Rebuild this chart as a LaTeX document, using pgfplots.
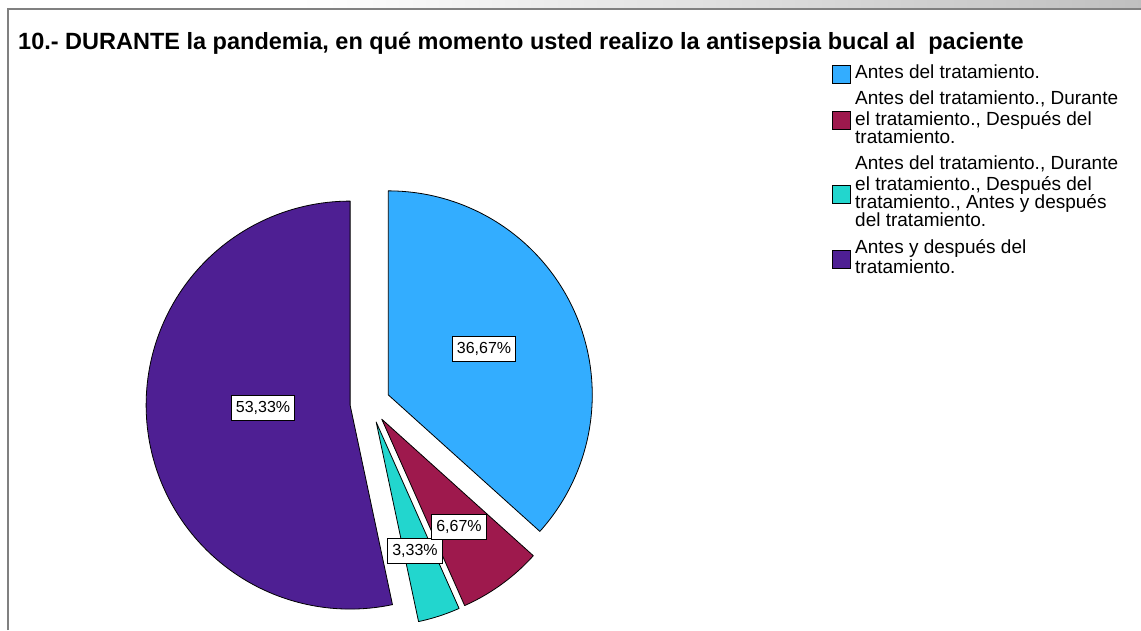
\documentclass[border=0pt]{standalone}
\usepackage{fontspec}
\setmainfont{Liberation Sans}
\usepackage{pgfplots}
\pgfplotsset{compat=1.18}

\definecolor{cBlue}{RGB}{51,173,255}
\definecolor{cMaroon}{RGB}{158,25,77}
\definecolor{cTeal}{RGB}{34,214,206}
\definecolor{cPurple}{RGB}{78,31,147}

% data (percent)
\def\vA{36.67}\def\vB{6.67}\def\vC{3.33}\def\vD{53.33}
\pgfmathsetmacro\aA{90}
\pgfmathsetmacro\aB{\aA-3.6*\vA}
\pgfmathsetmacro\aC{\aB-3.6*\vB}
\pgfmathsetmacro\aD{\aC-3.6*\vC}
\pgfmathsetmacro\aE{\aD-3.6*\vD}

\newcommand{\slice}[3]{%
  \pgfmathsetmacro\mid{(#2+#3)/2}%
  \pgfmathsetmacro\ax{370+20*cos(\mid)}%
  \pgfmathsetmacro\ay{227+20*sin(\mid)}%
  \edef\doslice{\noexpand\addplot[fill=#1, draw=black, line width=0.8pt, line join=round, domain=#3:#2, samples=120]
    ({\ax+204*cos(x)},{\ay+204*sin(x)}) -- (axis cs:\ax,\ay) -- cycle;}%
  \doslice
}
\newcommand{\legitem}[3]{%
  \draw[fill=#1, draw=black, line width=0.8pt] (axis cs:832,#2-9) rectangle (axis cs:850,#2+9);
  \node[anchor=west, inner sep=0pt] at (axis cs:855,#2) {\parbox[c]{290pt}{\fontsize{19}{18}\selectfont\strut #3\strut}};
}

\begin{document}
\begin{tikzpicture}
\begin{axis}[
  x=1pt, y=1pt, xmin=0, xmax=1141, ymin=0, ymax=630,
  hide axis, clip=false,
]
\slice{cBlue}{\aA}{\aB}
\slice{cMaroon}{\aB}{\aC}
\slice{cTeal}{\aC}{\aD}
\slice{cPurple}{\aD}{\aE}

\legitem{cBlue}{556}{Antes del tratamiento.}
\legitem{cMaroon}{510}{Antes del tratamiento., Durante\\el tratamiento., Después del\\tratamiento.}
\legitem{cTeal}{436}{Antes del tratamiento., Durante\\el tratamiento., Después del\\tratamiento., Antes y después\\del tratamiento.}
\legitem{cPurple}{371}{Antes y después del\\tratamiento.}

\tikzset{lab/.style={draw=black, fill=white, font=\fontsize{16}{18}\selectfont, inner xsep=4.5pt, inner ysep=0pt, minimum height=25pt, line width=0.8pt}}
\node[lab] at (axis cs:484,281) {36,67\%};
\node[lab] at (axis cs:263,222) {53,33\%};
\node[lab] at (axis cs:415,79) {3,33\%};
\node[lab] at (axis cs:459,103) {6,67\%};

\node[anchor=base west, font=\fontsize{23.5}{26}\selectfont\bfseries, inner sep=0pt] at (axis cs:18,580) {10.- DURANTE la pandemia, en qué momento usted realizo la antisepsia bucal al\ \ paciente};

\shade[left color=white, right color=black!25] (axis cs:300,621) rectangle (axis cs:1141,630);
\draw[black!50, line width=1.6pt] (axis cs:8,0) -- (axis cs:8,621) -- (axis cs:1141,621);
\end{axis}
\pgfresetboundingbox
\path (0,0) rectangle (1141pt,630pt);
\end{tikzpicture}
\end{document}
